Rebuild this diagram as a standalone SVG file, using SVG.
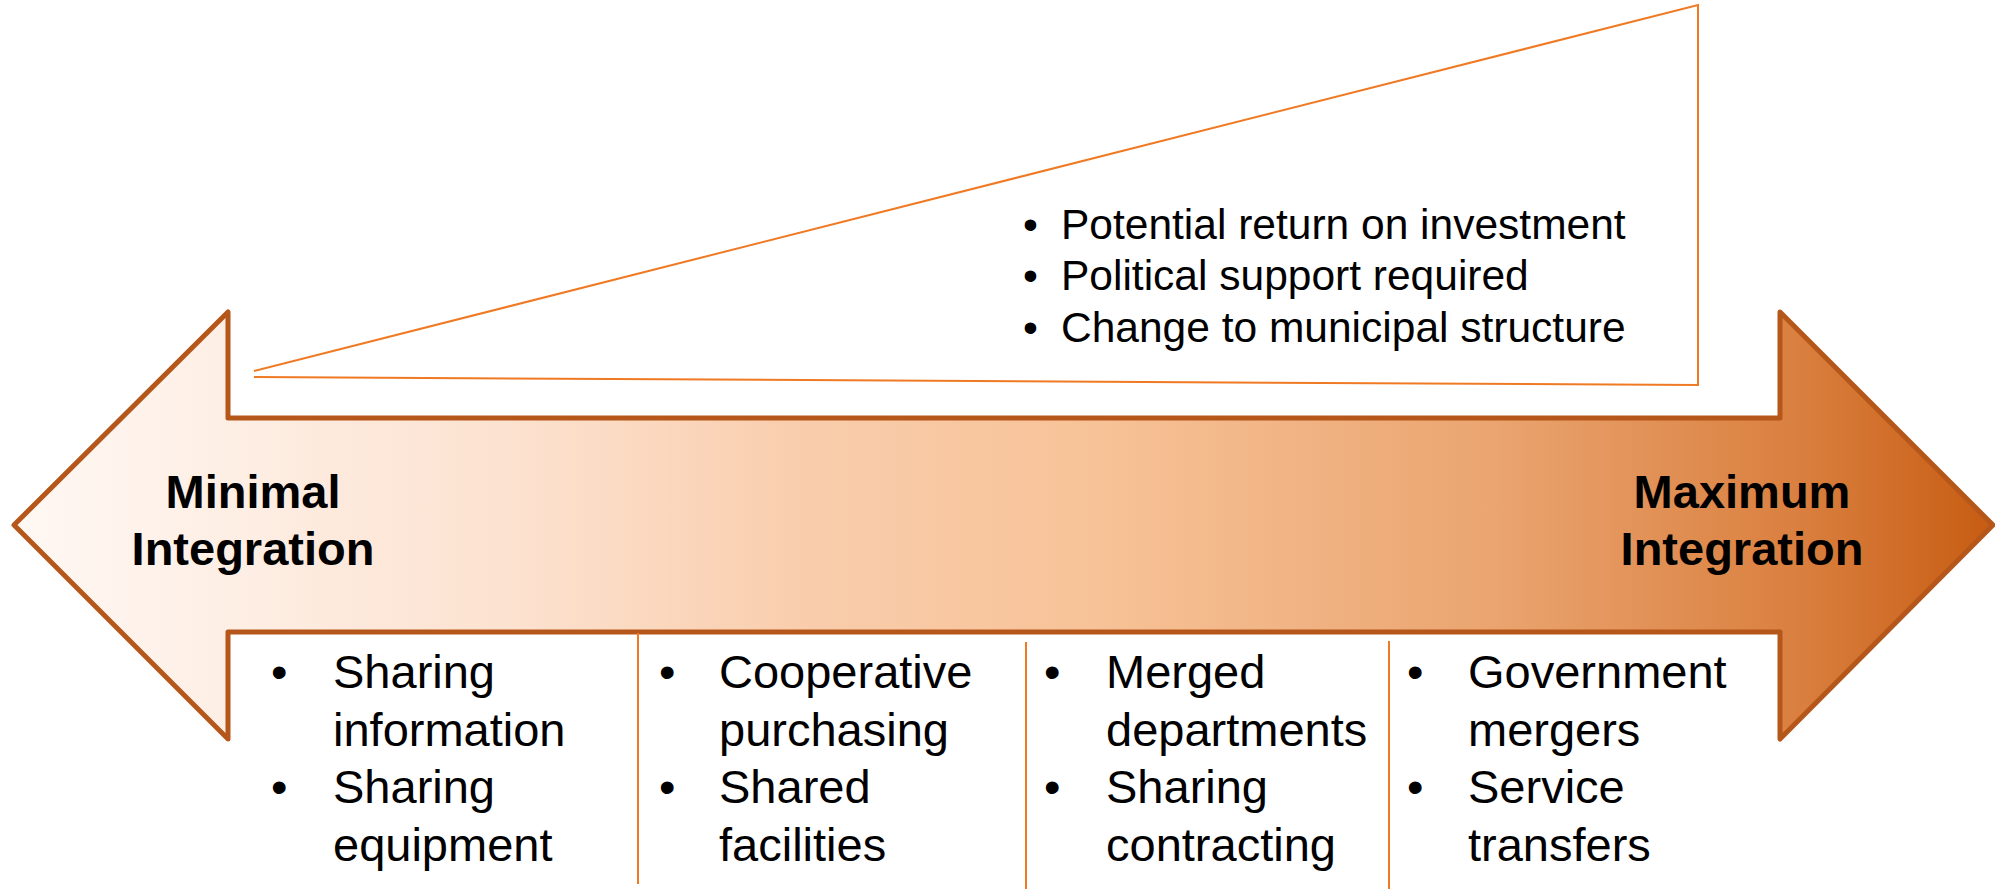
<svg xmlns="http://www.w3.org/2000/svg" width="1995" height="889" viewBox="0 0 1995 889">
<style>
.lbl{font-family:"Liberation Sans",Arial,sans-serif;font-weight:bold;font-size:47px;fill:#000;text-anchor:middle}
.item{font-family:"Liberation Sans",Arial,sans-serif;font-size:47px;fill:#000}
.top{font-family:"Liberation Sans",Arial,sans-serif;font-size:42.5px;fill:#000}
.thin{fill:none;stroke:#F07A24;stroke-width:2}
</style>
<defs>
<linearGradient id="g" gradientUnits="userSpaceOnUse" x1="14" y1="0" x2="1993" y2="0">
<stop offset="0" stop-color="#FFF8F4"/>
<stop offset="0.25" stop-color="#FCE2D0"/>
<stop offset="0.4" stop-color="#F9CDAC"/>
<stop offset="0.55" stop-color="#F7C297"/>
<stop offset="0.75" stop-color="#EAA46F"/>
<stop offset="0.9" stop-color="#DA8040"/>
<stop offset="1" stop-color="#C75C12"/>
</linearGradient>
</defs>
<g id="arrow">
<polygon points="14,525 228,312 228,418 1780,418 1780,312 1993,525 1780,739 1780,632 228,632 228,739" fill="url(#g)" stroke="#B5571A" stroke-width="5" stroke-linejoin="round"/>
<text class="lbl" x="253" y="508">Minimal</text>
<text class="lbl" x="253" y="565">Integration</text>
<text class="lbl" x="1742" y="508">Maximum</text>
<text class="lbl" x="1742" y="565">Integration</text>
</g>
<g id="wedge">
<polyline class="thin" points="254,371 1698,5 1698,385 254,377"/>
<text class="top" x="1023" y="239">•</text>
<text class="top" x="1061" y="239">Potential return on investment</text>
<text class="top" x="1023" y="290">•</text>
<text class="top" x="1061" y="290">Political support required</text>
<text class="top" x="1023" y="342">•</text>
<text class="top" x="1061" y="342">Change to municipal structure</text>
</g>
<g id="connectors">
<line class="thin" x1="638" y1="633" x2="638" y2="884"/>
<line class="thin" x1="1026" y1="642" x2="1026" y2="889"/>
<line class="thin" x1="1389" y1="641" x2="1389" y2="889"/>
</g>
<g id="col1">
<text class="item" x="271" y="688">•</text>
<text class="item" x="333" y="688">Sharing</text>
<text class="item" x="333" y="746">information</text>
<text class="item" x="271" y="803">•</text>
<text class="item" x="333" y="803">Sharing</text>
<text class="item" x="333" y="861">equipment</text>
</g>
<g id="col2">
<text class="item" x="659" y="688">•</text>
<text class="item" x="719" y="688">Cooperative</text>
<text class="item" x="719" y="746">purchasing</text>
<text class="item" x="659" y="803">•</text>
<text class="item" x="719" y="803">Shared</text>
<text class="item" x="719" y="861">facilities</text>
</g>
<g id="col3">
<text class="item" x="1044" y="688">•</text>
<text class="item" x="1106" y="688">Merged</text>
<text class="item" x="1106" y="746">departments</text>
<text class="item" x="1044" y="803">•</text>
<text class="item" x="1106" y="803">Sharing</text>
<text class="item" x="1106" y="861">contracting</text>
</g>
<g id="col4">
<text class="item" x="1407" y="688">•</text>
<text class="item" x="1468" y="688">Government</text>
<text class="item" x="1468" y="746">mergers</text>
<text class="item" x="1407" y="803">•</text>
<text class="item" x="1468" y="803">Service</text>
<text class="item" x="1468" y="861">transfers</text>
</g>
</svg>
